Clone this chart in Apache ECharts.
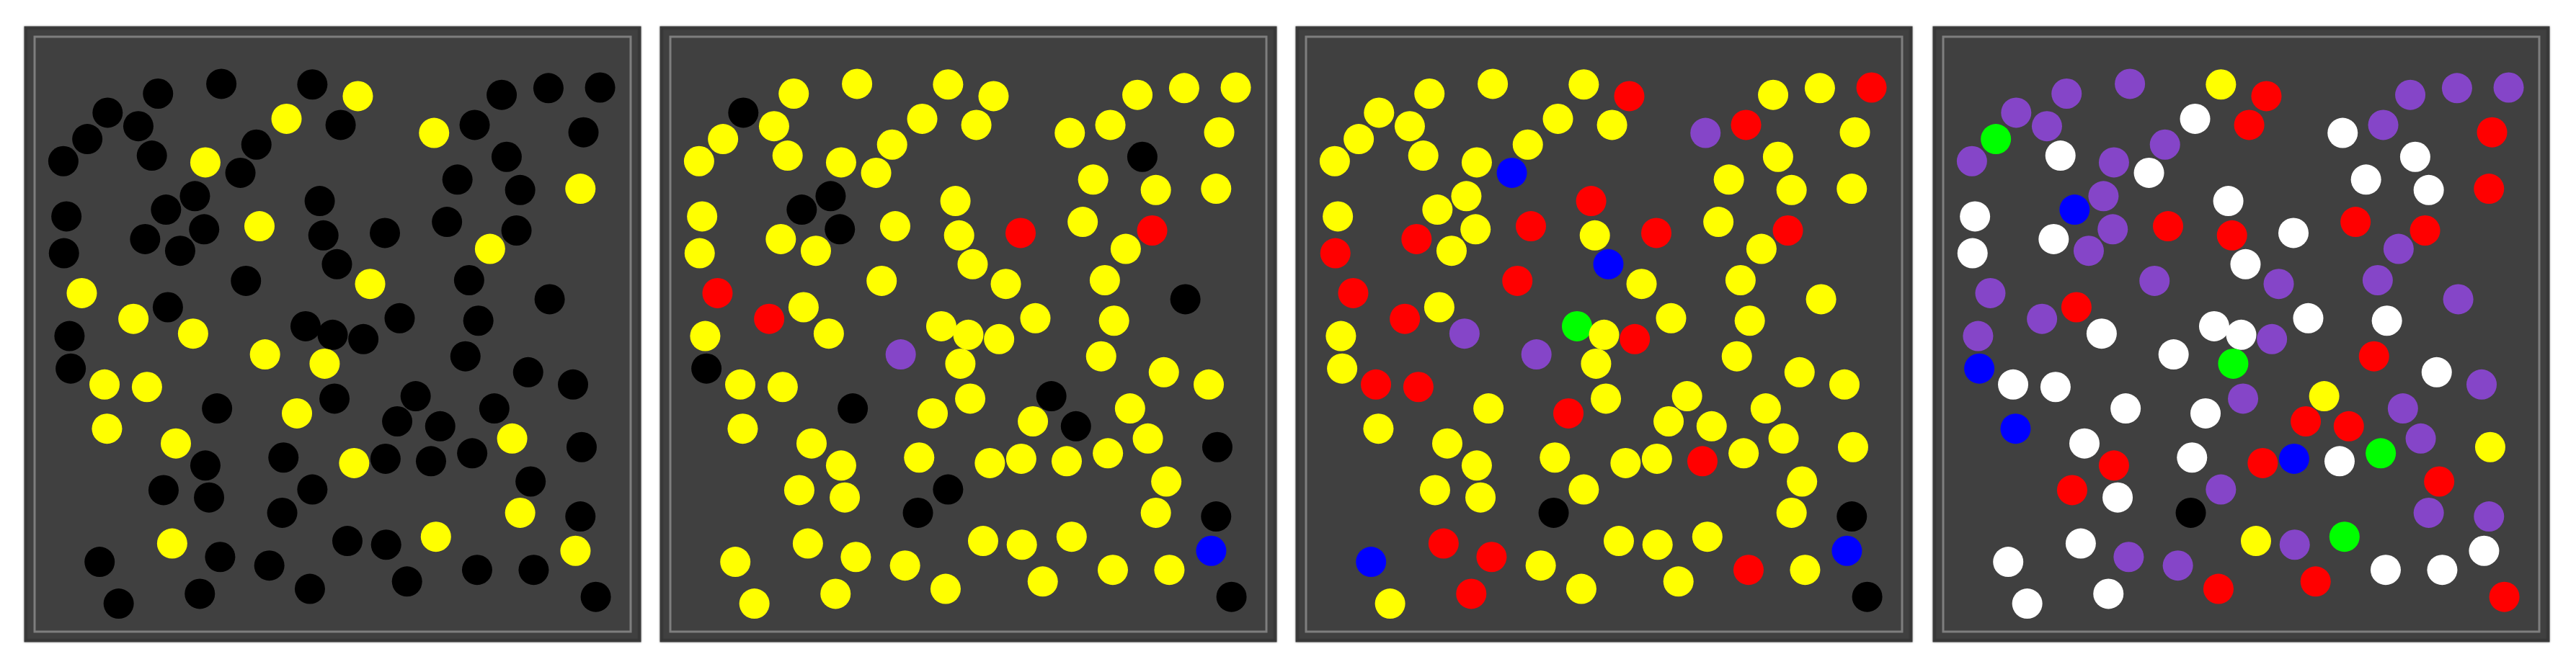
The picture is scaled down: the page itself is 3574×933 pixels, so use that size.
<!DOCTYPE html>
<html>
<head>
<meta charset="utf-8">
<script src="https://cdn.jsdelivr.net/npm/echarts@6/dist/echarts.min.js"></script>
<style>
  html, body { margin: 0; padding: 0; background: #fff; }
  #main { width: 3574px; height: 933px; }
</style>
</head>
<body>
<div id="main"></div>
<script>
// agent positions (same layout in every panel), world units 0..100
var agentX = [31.9, 46.7, 54.1, 21.6, 77.5, 85.1, 93.5, 13.4, 18.4, 10.1,
              42.5, 51.3, 66.5, 73.1, 90.8, 6.2, 20.6, 29.3, 37.6, 35.0,
              78.3, 70.3, 80.5, 90.3, 27.6, 22.9, 47.9, 6.7, 29.1, 38.1,
              19.5, 25.2, 48.5, 58.5, 68.6, 79.9, 75.6, 6.3, 50.7, 35.9,
              56.1, 72.2, 9.2, 85.3, 17.6, 23.2, 27.3, 45.6, 50.0, 55.0,
              60.9, 73.7, 7.2, 39.0, 48.7, 71.6, 7.4, 12.9, 19.8, 81.8,
              89.1, 31.2, 44.2, 50.3, 63.5, 13.3, 60.5, 67.5, 76.3, 24.5,
              79.2, 90.5, 29.3, 42.0, 53.5, 58.6, 66.0, 72.7, 22.5, 29.9,
              46.7, 82.2, 41.8, 80.5, 90.3, 23.9, 52.4, 58.7, 66.8, 89.5,
              12.1, 31.7, 39.7, 73.5, 82.7, 15.2, 28.4, 46.3, 62.1, 92.8];
var agentY = [9.2, 9.3, 11.2, 10.8, 11.0, 9.9, 9.8, 13.9, 16.1, 18.2,
              14.9, 15.9, 17.2, 15.9, 17.1, 21.8, 20.9, 22.0, 19.1, 23.7,
              21.1, 24.8, 26.5, 26.3, 27.5, 29.7, 28.3, 30.8, 32.9, 32.4,
              34.5, 36.4, 33.9, 33.5, 31.7, 33.1, 36.1, 36.8, 38.6, 41.3,
              41.8, 41.2, 43.3, 44.3, 47.5, 45.6, 49.9, 48.7, 50.1, 50.8,
              47.4, 47.8, 50.3, 53.3, 54.8, 53.6, 55.6, 58.2, 58.6, 56.2,
              58.2, 62.1, 62.9, 60.5, 60.1, 65.4, 64.2, 65.0, 62.1, 67.8,
              67.0, 68.4, 71.4, 70.1, 71.0, 70.3, 70.7, 69.4, 75.4, 76.6,
              75.3, 74.0, 79.1, 79.1, 79.7, 84.1, 83.7, 84.3, 83.0, 85.3,
              87.1, 86.3, 87.7, 88.4, 88.4, 93.9, 92.3, 91.5, 90.3, 92.8];

// state of each agent at each snapshot
// K black, Y yellow, R red, B blue, P purple, G green, W white
var step1 = ("KKYKKKKKKK" + "YKYKKKKYKK" + "KKKYKKKKKY" + "KKKKKKYKKK" + "YKYKYKYKKK" +
             "KKKYYKKYYK" + "KKYKKYKKKY" + "YKKKYKKKKK" + "KKKYKYKKYY" + "KKKKKKKKKK").split('');
var step2 = ("YYYYYYYKYY" + "YYYYYYYYYY" + "KYYYKKYYKY" + "YYYRYRYYYY" + "YYRKRYYYYY" +
             "YYYPYYKYYY" + "YKYYKYYKYY" + "YKYYYYYYYY" + "KYKYKYYYYB" + "YYYYYYYYYK").split('');
var step3 = ("YYRYYYRYYY" + "YYPRYYYYYB" + "YYYYYYRYYR" + "RYYRYRYRBR" + "YYRYRYPGYR" +
             "YYYPYYYRRY" + "YYRYYYYYYY" + "YYYYYYRYYY" + "YYKYKRYYYB" + "BRYRYYRYYK").split('');
var step4 = ("PYRPPPPPPG" + "WRWPRPWPPW" + "WWWRPBWWPR" + "WPRWRRPWWP" + "PPPPPRWWWP" +
             "WWPWGRBWWW" + "PWWPYBRRPW" + "PYRWRBWGRW" + "PRKPPWYPGW" + "WPPWWWWRRR").split('');

var steps = [step1, step2, step3, step4];

var stateColor = {
  K: '#000000', Y: '#ffff00', R: '#ff0000', B: '#0000ff',
  P: '#8545c8', G: '#00ff00', W: '#ffffff'
};

var panelLeft = [35, 917, 1799, 2683];
var panelTop = 38, panelW = 853, panelH = 852;

var grids = [], xAxes = [], yAxes = [], series = [], graphics = [];

steps.forEach(function (st, i) {
  grids.push({
    left: panelLeft[i], top: panelTop, width: panelW, height: panelH,
    show: true, backgroundColor: '#404040', borderWidth: 0
  });
  xAxes.push({ gridIndex: i, type: 'value', min: 0, max: 100, show: false });
  yAxes.push({ gridIndex: i, type: 'value', min: 0, max: 100, inverse: true, show: false });

  var data = [];
  for (var k = 0; k < agentX.length; k++) {
    data.push([agentX[k], agentY[k], st[k]]);
  }
  series.push({
    type: 'scatter',
    xAxisIndex: i, yAxisIndex: i,
    symbolSize: 42,
    silent: true,
    data: data,
    itemStyle: {
      opacity: 1,
      color: function (p) { return stateColor[p.value[2]]; }
    },
    z: 3
  });

  // panel frame: soft dark edge + light inset line
  graphics.push({
    type: 'rect', z: 1,
    shape: { x: panelLeft[i], y: panelTop, width: panelW, height: panelH },
    style: { fill: null, stroke: '#3a3a3a', lineWidth: 3, shadowBlur: 3, shadowColor: 'rgba(0,0,0,0.4)' }
  });
  graphics.push({
    type: 'rect', z: 1,
    shape: { x: panelLeft[i] + 13, y: panelTop + 13, width: panelW - 26, height: panelH - 26 },
    style: { fill: null, stroke: '#7e7e7e', lineWidth: 3 }
  });
});

var myChart = echarts.init(document.getElementById('main'));
myChart.setOption({
  animation: false,
  backgroundColor: '#ffffff',
  grid: grids,
  xAxis: xAxes,
  yAxis: yAxes,
  graphic: graphics,
  series: series
});
</script>
</body>
</html>
